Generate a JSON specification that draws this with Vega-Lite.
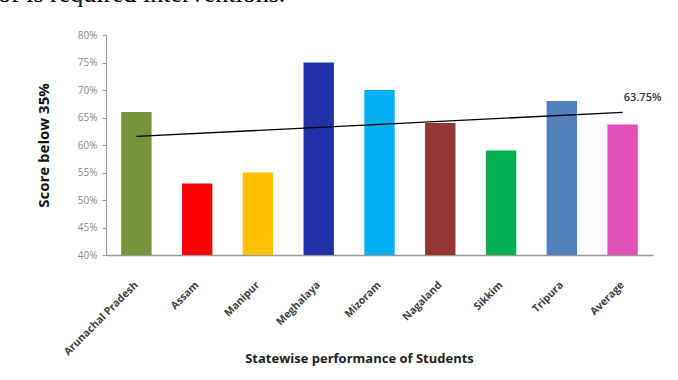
{
  "$schema": "https://vega.github.io/schema/vega-lite/v6.json",
  "autosize": {"type": "none"},
  "width": 547,
  "height": 220,
  "padding": {"left": 106, "top": 35, "right": 25, "bottom": 125},
  "background": "white",
  "title": {
    "text": "of is required interventions.",
    "anchor": "start",
    "frame": "group",
    "font": "Liberation Serif",
    "fontSize": 26,
    "fontWeight": "normal",
    "color": "black",
    "baseline": "alphabetic",
    "offset": 0,
    "dx": -108,
    "dy": -2
  },
  "config": {
    "view": {"stroke": null},
    "font": "Open Sans"
  },
  "datasets": {
    "bars": [
      {"State": "Arunachal Pradesh", "Score": 0.66},
      {"State": "Assam", "Score": 0.53},
      {"State": "Manipur", "Score": 0.55},
      {"State": "Meghalaya", "Score": 0.75},
      {"State": "Mizoram", "Score": 0.70},
      {"State": "Nagaland", "Score": 0.64},
      {"State": "Sikkim", "Score": 0.59},
      {"State": "Tripura", "Score": 0.68},
      {"State": "Average", "Score": 0.6375}
    ],
    "trend": [
      {"State": "Arunachal Pradesh", "Score": 0.6155},
      {"State": "Average", "Score": 0.6595}
    ],
    "label": [
      {"State": "Average", "Score": 0.6595, "Label": "63.75%"}
    ]
  },
  "encoding": {
    "x": {
      "field": "State",
      "type": "nominal",
      "sort": null,
      "scale": {
        "domain": ["Arunachal Pradesh", "Assam", "Manipur", "Meghalaya", "Mizoram", "Nagaland", "Sikkim", "Tripura", "Average"],
        "paddingInner": 0.5,
        "paddingOuter": 0.25
      },
      "axis": {
        "title": "Statewise performance of Students",
        "titleFontSize": 13,
        "titleFontWeight": "bold",
        "titleColor": "#222222",
        "titleX": 253,
        "titleY": 103,
        "titleBaseline": "middle",
        "titleAnchor": "middle",
        "labelAngle": -45,
        "labelAlign": "right",
        "labelBaseline": "middle",
        "labelFontSize": 10.5,
        "labelFontWeight": "bold",
        "labelColor": "#404040",
        "labelPadding": 28,
        "labelOverlap": false,
        "ticks": false,
        "domainColor": "#999999",
        "domainWidth": 1.5
      }
    },
    "y": {
      "field": "Score",
      "type": "quantitative",
      "scale": {"domain": [0.4, 0.8], "zero": false, "nice": false},
      "axis": {
        "title": "Score below 35%",
        "titleFontSize": 15,
        "titleFontWeight": "bold",
        "titleColor": "#111111",
        "titlePadding": 26,
        "values": [0.4, 0.45, 0.5, 0.55, 0.6, 0.65, 0.7, 0.75, 0.8],
        "format": ".0%",
        "labelFontSize": 10,
        "labelColor": "#888888",
        "labelPadding": 5,
        "labelOverlap": false,
        "tickSize": 4,
        "tickColor": "#999999",
        "domainColor": "#999999",
        "grid": false
      }
    }
  },
  "layer": [
    {
      "data": {"name": "bars"},
      "mark": {"type": "bar", "clip": true},
      "encoding": {
        "color": {
          "field": "State",
          "type": "nominal",
          "scale": {
            "domain": ["Arunachal Pradesh", "Assam", "Manipur", "Meghalaya", "Mizoram", "Nagaland", "Sikkim", "Tripura", "Average"],
            "range": ["#77933C", "#FF0000", "#FFC000", "#2132A8", "#00B0F0", "#953735", "#00B050", "#4F81BD", "#E050B8"]
          },
          "legend": null
        }
      }
    },
    {
      "data": {"name": "trend"},
      "mark": {"type": "line", "color": "black", "strokeWidth": 1.3},
      "encoding": {}
    },
    {
      "data": {"name": "label"},
      "mark": {"type": "text", "fontSize": 11, "fontWeight": 600, "color": "#333333", "dx": 20, "dy": -14},
      "encoding": {
        "text": {"field": "Label"}
      }
    }
  ]
}
